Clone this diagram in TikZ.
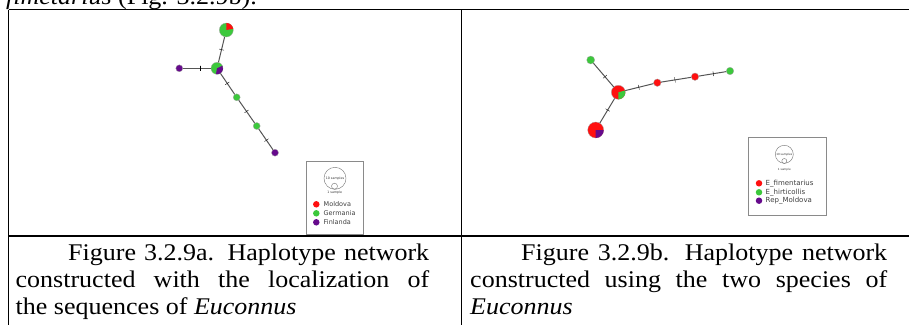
\documentclass[tikz,border=0pt]{standalone}
\usepackage{fontspec}
\setmainfont{Liberation Serif}
\newfontfamily\legfont{DejaVu Sans}
\usepackage{graphicx}
\definecolor{hred}{HTML}{FF1010}
\definecolor{hgreen}{HTML}{3CC83C}
\definecolor{hpurple}{HTML}{660A8C}
\definecolor{edgegray}{HTML}{555555}
\definecolor{leggray}{HTML}{8A8A8A}
\newcommand\capline[2]{\scalebox{1}[0.92]{\makebox[#1][s]{#2}}}
\newcommand\capnat[1]{\scalebox{1}[0.92]{#1}}
\newcommand\wedgefill[5]{\fill[#5] (#1) -- ++(#3:#2) arc[start angle=#3, end angle=#4, radius=#2] -- cycle;}
\begin{document}
\begin{tikzpicture}[x=1pt,y=-1pt,
  tbl/.style={line width=1.5pt, black},
  hap/.style={circle, inner sep=0pt, draw=black!35, line width=0.3pt},
  link/.style={edgegray, line width=1pt},
  mtick/.style={sloped, draw=black, line width=0.35pt, inner sep=0pt, minimum width=0pt, minimum height=5pt},
  captxt/.style={font=\fontsize{26}{26}\selectfont, inner sep=0pt},
  legbox/.style={draw=leggray, line width=0.6pt, inner sep=0pt},
  legtxt/.style={font=\legfont\fontsize{6.5}{6.5}\selectfont, text=black!75, inner sep=0pt, anchor=west},
  legtxtb/.style={font=\legfont\fontsize{7}{7}\selectfont, text=black!75, inner sep=0pt, anchor=west},
  tinytxt/.style={font=\legfont\fontsize{3.2}{3.2}\selectfont, text=black!80, inner sep=0pt}]
\clip (0,0) rectangle (909,324);
\fill[white] (0,0) rectangle (909,324);

% top clipped line of text
\node[captxt, anchor=base west] (toptext) at (6,5) {\capnat{\textit{fimetarius} (Fig. 3.2.9b).}};

% table frame
\draw[tbl] (8.5,9.5) -- (910,9.5);
\draw[tbl] (8.5,9.5) -- (8.5,325);
\draw[tbl] (461.5,9.5) -- (461.5,325);
\draw[tbl] (8.5,236) -- (910,236);

% ---------- left network ----------
\node[hap, fill=hgreen, minimum size=14pt] (LT) at (226.3,30) {};
\wedgefill{LT.center}{7pt}{10}{90}{hred}
\node[hap, fill=hgreen, minimum size=12pt] (LC) at (217,68.3) {};
\wedgefill{LC.center}{6pt}{-100}{25}{hpurple}
\node[hap, fill=hpurple, minimum size=7pt] (LL) at (179.3,68.3) {};
\node[hap, fill=hgreen, minimum size=7pt] (LG1) at (236.7,97.3) {};
\node[hap, fill=hgreen, minimum size=7pt] (LG2) at (256.7,126) {};
\node[hap, fill=hpurple, minimum size=7pt] (LP) at (275,152.7) {};
\draw[link] (LC) -- node[mtick, pos=0.5] {} (LT);
\draw[link] (LL) -- node[mtick, pos=0.6] {} (LC);
\draw[link] (LC) -- node[mtick, pos=0.48] {} (LG1);
\draw[link] (LG1) -- node[mtick, pos=0.49] {} (LG2);
\draw[link] (LG2) -- node[mtick, pos=0.54] {} (LP);

% left legend
\node[legbox, minimum width=57pt, minimum height=73pt] (leg1) at (334.6,197.5) {};
\node[circle, draw=black!55, line width=0.4pt, inner sep=0pt, minimum size=22pt, tinytxt] (l1big) at (335,178.3) {10 samples};
\node[circle, draw=black!55, line width=0.4pt, inner sep=0pt, minimum size=6pt] (l1small) at (334.5,186.2) {};
\node[tinytxt] (l1one) at (334.7,192.7) {1 sample};
\node[hap, fill=hred, minimum size=6.5pt, draw=none] (l1d1) at (316.3,204.3) {};
\node[hap, fill=hgreen, minimum size=6.5pt, draw=none] (l1d2) at (316.3,213.3) {};
\node[hap, fill=hpurple, minimum size=6.5pt, draw=none] (l1d3) at (316.3,222.3) {};
\node[legtxt] (l1t1) at (323.5,204.3) {Moldova};
\node[legtxt] (l1t2) at (323.5,213.3) {Germania};
\node[legtxt] (l1t3) at (323.5,222.3) {Finlanda};

% ---------- right network ----------
\node[hap, fill=hgreen, minimum size=8pt] (RTL) at (590.7,60) {};
\node[hap, fill=hred, minimum size=14pt] (RC) at (618.3,92.3) {};
\wedgefill{RC.center}{7pt}{-90}{15}{hgreen}
\node[hap, fill=hred, minimum size=16pt] (RB) at (595.7,130) {};
\wedgefill{RB.center}{8pt}{-90}{0}{hpurple}
\node[hap, fill=hred, minimum size=7.5pt] (RR1) at (657.3,82.7) {};
\node[hap, fill=hred, minimum size=7.5pt] (RR2) at (695,76.7) {};
\node[hap, fill=hgreen, minimum size=7.5pt] (RG) at (730,71) {};
\draw[link] (RTL) -- node[mtick, pos=0.57] {} (RC);
\draw[link] (RC) -- node[mtick, pos=0.47] {} (RB);
\draw[link] (RC) -- node[mtick, pos=0.48] {} (RR1);
\draw[link] (RR1) -- node[mtick, pos=0.46] {} (RR2);
\draw[link] (RR2) -- node[mtick, pos=0.53] {} (RG);

% right legend
\node[legbox, minimum width=78pt, minimum height=78pt] (leg2) at (787.5,176.2) {};
\node[circle, draw=black!55, line width=0.4pt, inner sep=0pt, minimum size=18pt, font=\legfont\fontsize{2.8}{2.8}\selectfont, text=black!80] (l2big) at (784.3,154.3) {10 samples};
\node[circle, draw=black!55, line width=0.4pt, inner sep=0pt, minimum size=5pt] (l2small) at (784.3,161) {};
\node[font=\legfont\fontsize{2.8}{2.8}\selectfont, text=black!80, inner sep=0pt] (l2one) at (784.3,169.5) {1 sample};
\node[hap, fill=hred, minimum size=6.5pt, draw=none] (l2d1) at (759,183.3) {};
\node[hap, fill=hgreen, minimum size=6.5pt, draw=none] (l2d2) at (759,192.3) {};
\node[hap, fill=hpurple, minimum size=6.5pt, draw=none] (l2d3) at (759,200.7) {};
\node[legtxtb] (l2t1) at (765.5,183.3) {E\_fimentarius};
\node[legtxtb] (l2t2) at (765.5,192.3) {E\_hirticollis};
\node[legtxtb] (l2t3) at (765.5,200.7) {Rep\_Moldova};

% ---------- captions ----------
\node[captxt, anchor=base west] (ca1) at (68,260) {\capline{361pt}{Figure 3.2.9a. Haplotype network}};
\node[captxt, anchor=base west] (ca2) at (15.5,287) {\capline{413.5pt}{constructed with the localization of}};
\node[captxt, anchor=base west] (ca3) at (15.5,314) {\capnat{the sequences of \textit{Euconnus}}};
\node[captxt, anchor=base west] (cb1) at (521,260) {\capline{366pt}{Figure 3.2.9b. Haplotype network}};
\node[captxt, anchor=base west] (cb2) at (470,287) {\capline{417pt}{constructed using the two species of}};
\node[captxt, anchor=base west] (cb3) at (470,314) {\capnat{\textit{Euconnus}}};
\end{tikzpicture}
\end{document}
